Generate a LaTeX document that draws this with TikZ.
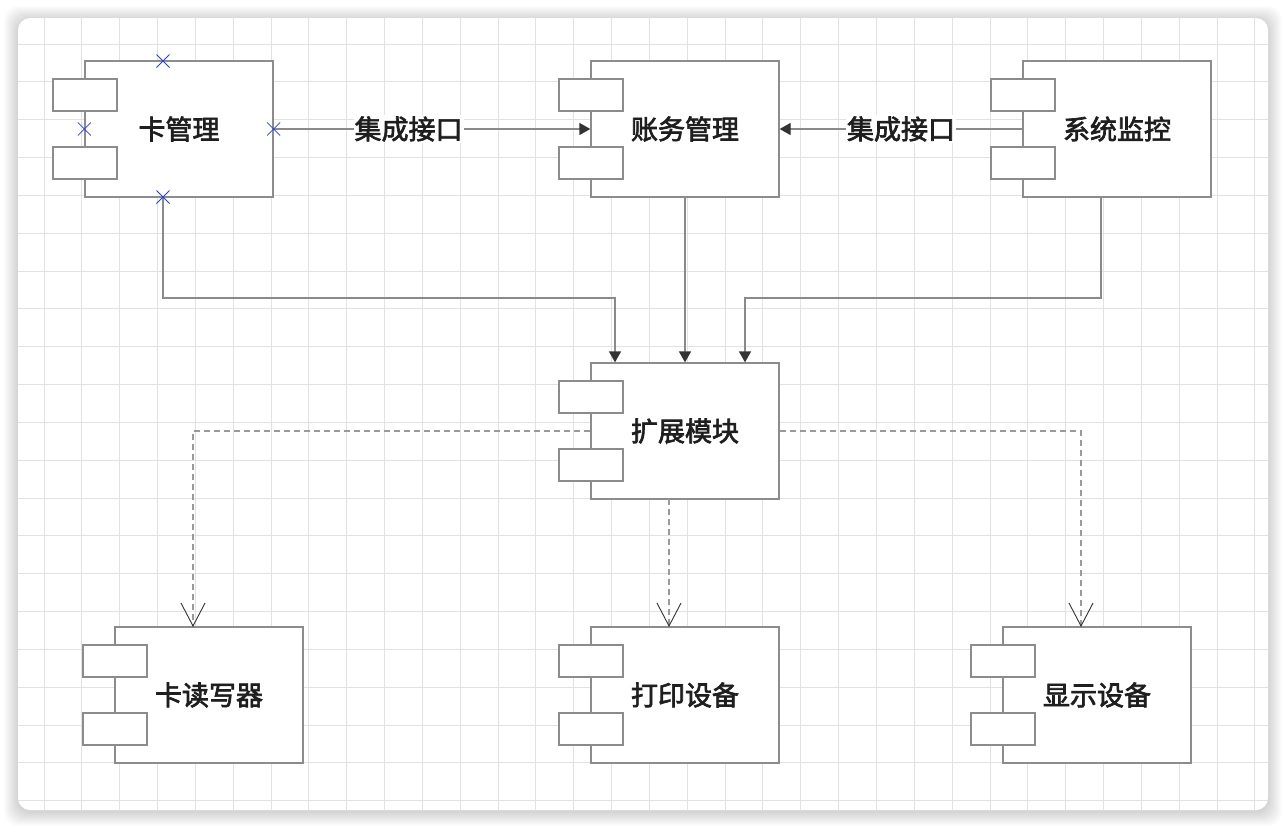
\documentclass[tikz,border=0pt]{standalone}
\usepackage{fontspec}
\newfontfamily\cjk[FakeBold=2.5]{Noto Sans CJK SC}
\usetikzlibrary{arrows.meta}
\definecolor{boxline}{HTML}{8C8C8C}
\definecolor{connline}{HTML}{8A8A8A}
\definecolor{depline}{HTML}{9A9A9A}
\definecolor{tipcol}{HTML}{333333}
\definecolor{gridcol}{HTML}{E2E2E2}
\definecolor{txt}{HTML}{1E1E1E}
\definecolor{xblue}{HTML}{1F3FFF}
\tikzset{
  mainbox/.style={draw=boxline, fill=white, line width=1.3pt, minimum width=188pt, minimum height=136pt, inner sep=0pt, text=txt, font=\cjk\fontsize{27}{32}\selectfont},
  minibox/.style={draw=boxline, fill=white, line width=1.3pt, minimum width=64pt, minimum height=32pt, inner sep=0pt},
  conn/.style={draw=connline, line width=1.3pt, -{Triangle[length=11pt,width=12pt,color=tipcol]}},
  dep/.style={draw=depline, line width=1.3pt, dash pattern=on 6pt off 4pt, -{Straight Barb[length=23pt,width=24pt,line width=0.9pt,color=tipcol]}},
  lbl/.style={fill=white, inner sep=1pt, text=txt, font=\cjk\fontsize{27}{32}\selectfont},
  xmark/.style={draw=xblue, line width=0.8pt},
  gridline/.style={draw=gridcol, line width=1pt}
}
\newcommand\umlcomp[4]{%
  \node[mainbox] (#1) at (#2+94,#3+68) {#4};
  \node[minibox] (#1-a) at (#2,#3+34) {};
  \node[minibox] (#1-b) at (#2,#3+102) {};
  \coordinate (#1-t) at (#2+78,#3);
  \coordinate (#1-bt) at (#2+78,#3+136);
}
\begin{document}
\begin{tikzpicture}[x=1pt,y=-1pt]
\useasboundingbox (0,0) rectangle (1286,828);
\fill[white] (0,0) rectangle (1286,828);
% shadow
\foreach \i in {1,...,14} {
  \fill[black,opacity=0.011,rounded corners=14pt] (18-\i,18-\i+2) rectangle (1268+\i,810+\i+2);
}
% canvas
\fill[white,rounded corners=12pt] (18,18) rectangle (1268,810);
\begin{scope}
  \clip[rounded corners=12pt] (18,18) rectangle (1268,810);
  \foreach \k in {0,...,32} { \draw[gridline] (44+37.84*\k,18) -- (44+37.84*\k,810); }
  \foreach \k in {0,...,20} { \draw[gridline] (18,44+37.84*\k) -- (1268,44+37.84*\k); }
\end{scope}

% components
\umlcomp{card}{85}{61}{卡管理}
\umlcomp{acct}{591}{61}{账务管理}
\umlcomp{sys}{1023}{61}{系统监控}
\umlcomp{ext}{591}{363}{扩展模块}
\umlcomp{reader}{115}{627}{卡读写器}
\umlcomp{print}{591}{627}{打印设备}
\umlcomp{disp}{1003}{627}{显示设备}

% connectors
\coordinate (j1) at (615,298);
\coordinate (j2) at (745,298);
\draw[conn] (card.east) -- node[lbl,pos=0.426] {集成接口} (acct.west);
\draw[conn] (sys.west) -- node[lbl] {集成接口} (acct.east);
\draw[conn] (card-bt) |- (j1) -- (j1 |- ext.north);
\draw[conn] (acct.south) -- (ext.north);
\draw[conn] (sys-bt) |- (j2) -- (j2 |- ext.north);
\draw[dep] (ext.west) -| (reader-t);
\draw[dep] (ext-bt) -- (print-t);
\draw[dep] (ext.east) -| (disp-t);

% blue markers
\foreach \p in {card-t, card.west, card.east, card-bt} {
  \draw[xmark] (\p) +(-6.5,-6.5) -- +(6.5,6.5) +(-6.5,6.5) -- +(6.5,-6.5);
}
\end{tikzpicture}
\end{document}
